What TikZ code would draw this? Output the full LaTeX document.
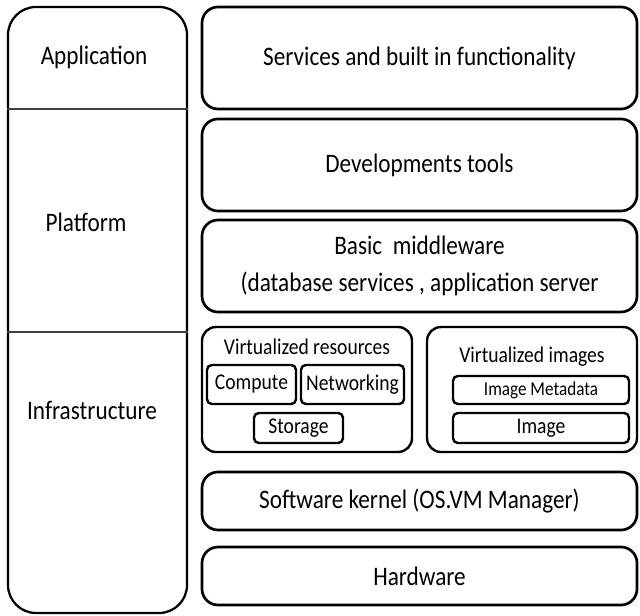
\documentclass[tikz,border=0pt]{standalone}
\usepackage{fontspec}
\setmainfont[FakeStretch=0.87]{Carlito}
\begin{document}
\begin{tikzpicture}[
    layer/.style={draw,line width=1.9pt,rounded corners=0.4cm,minimum width=10.875cm,align=center,font=\fontsize{19}{26}\selectfont},
    group/.style={draw,line width=1.7pt,rounded corners=0.35cm,minimum width=5.25cm,minimum height=3.125cm},
    part/.style={draw,line width=1.7pt,rounded corners=0.12cm,inner sep=0pt,font=\fontsize{16}{18}\selectfont},
    tier/.style={font=\fontsize{19}{23}\selectfont}]

  \useasboundingbox (0,0) rectangle (16,15.375);

  % service model column
  \node[draw,line width=1.6pt,rounded corners=0.7cm,minimum width=4.475cm,minimum height=15.15cm] (stack) at (2.4375,7.625) {};
  \draw[line width=0.8pt,black!75] (stack.west |- 0,12.65) -- (stack.east |- 0,12.65);
  \draw[line width=0.8pt,black!75] (stack.west |- 0,7.075) -- (stack.east |- 0,7.075);
  \node[tier] (app) at (2.35,13.95) {Application};
  \node[tier] (plat) at (2.15,9.825) {Platform};
  \node[tier] (infra) at (2.3,5.125) {Infrastructure};

  % layers
  \node[layer,minimum height=2.55cm] (services) at (10.4875,13.925) {Services and built in functionality};
  \node[layer,minimum height=2.3cm] (devtools) at (10.4875,11.25) {Developments tools};
  \node[layer,minimum height=2.3cm] (middleware) at (10.4875,8.725) {Basic~~middleware\\(database services , application server};
  \node[layer,minimum height=1.45cm] (kernel) at (10.4875,2.85) {Software kernel (OS.VM Manager)};
  \node[layer,minimum height=1.45cm] (hardware) at (10.4875,0.975) {Hardware};

  % virtualization
  \node[group] (resources) at (7.675,5.6375) {};
  \node[font=\fontsize{16}{18}\selectfont] (restitle) at (7.675,6.7) {Virtualized resources};
  \node[part,minimum width=2.225cm,minimum height=0.975cm] (compute) at (6.2875,5.7625) {Compute};
  \node[part,minimum width=2.575cm,minimum height=0.975cm] (network) at (8.8125,5.7625) {Networking};
  \node[part,minimum width=2.225cm,minimum height=0.75cm] (storage) at (7.4625,4.675) {Storage};

  \node[group] (images) at (13.3,5.6375) {};
  \node[font=\fontsize{16}{18}\selectfont] (imgtitle) at (13.3,6.45) {Virtualized images};
  \node[part,minimum width=4.4cm,minimum height=0.7cm,font=\fontsize{14}{16}\selectfont] (metadata) at (13.525,5.625) {Image Metadata};
  \node[part,minimum width=4.4cm,minimum height=0.75cm] (image) at (13.525,4.675) {Image};

\end{tikzpicture}
\end{document}
